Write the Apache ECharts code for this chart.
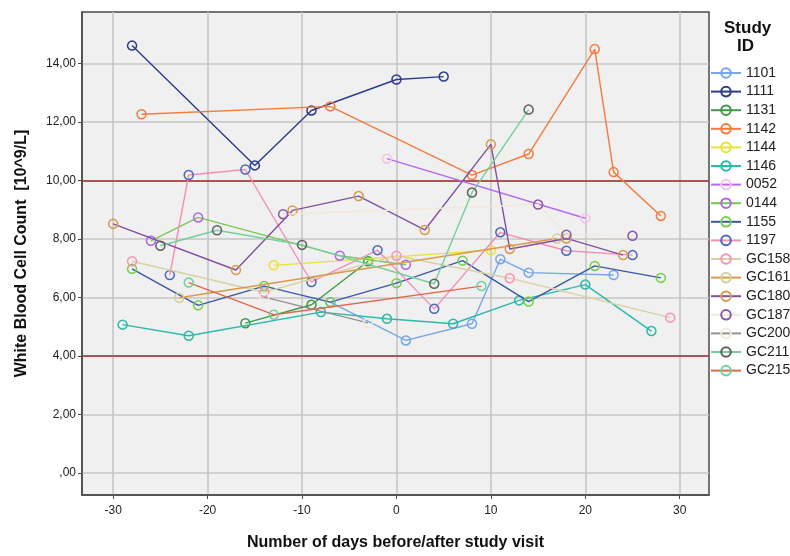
<!DOCTYPE html>
<html>
<head>
<meta charset="utf-8">
<script src="https://cdn.jsdelivr.net/npm/echarts@6/dist/echarts.min.js"></script>
<style>
  html, body { margin: 0; padding: 0; background: #ffffff; }
  #chart { width: 790px; height: 556px; }
</style>
</head>
<body>
<div id="chart"></div>
<script>
// White blood cell counts per study participant, by day relative to the study visit.
const ids = ['1101', '1111', '1131', '1142', '1144', '1146', '0052', '0144', '1155', '1197',
             'GC158', 'GC161', 'GC180', 'GC187', 'GC200', 'GC211', 'GC215'];

// [day, WBC 10^9/L]
const p1101  = [[-7, 5.84], [1, 4.53], [8, 5.10], [11, 7.31], [14, 6.85], [23, 6.77]];
const p1111  = [[-28, 14.62], [-15, 10.52], [-9, 12.40], [0, 13.46], [5, 13.56]];
const p1131  = [[-16, 5.12], [-9, 5.75], [-3, 7.24]];
const p1142  = [[-27, 12.27], [-7, 12.54], [8, 10.19], [14, 10.91], [21, 14.50], [23, 10.29], [28, 8.79]];
const p1144  = [[-13, 7.10], [10, 7.62]];
const p1146  = [[-29, 5.07], [-22, 4.69], [-8, 5.50], [-1, 5.27], [6, 5.10], [13, 5.90], [20, 6.44], [27, 4.85]];
const p0052  = [[-1, 10.75], [20, 8.71]];
const p0144  = [[-26, 7.94], [-21, 8.74], [-6, 7.43], [1, 7.12]];
const p1155  = [[-28, 6.98], [-21, 5.73], [-14, 6.39], [-7, 5.84], [0, 6.49], [7, 7.26], [14, 5.86], [21, 7.08], [28, 6.67]];
const p1197  = [[-24, 6.77], [-22, 10.19], [-16, 10.38], [-9, 6.53], [-2, 7.62], [4, 5.61], [11, 8.23], [18, 7.60], [25, 7.45]];
const pGC158 = [[-28, 7.24], [-14, 6.18], [0, 7.43], [12, 6.66], [29, 5.31]];
const pGC161 = [[-23, 5.99], [17, 8.02]];
const pGC180 = [[-30, 8.52], [-17, 6.94], [-11, 8.98], [-4, 9.47], [3, 8.31], [10, 11.24], [12, 7.66], [18, 8.02], [24, 7.45]];
const pGC187 = [[-12, 8.85], [15, 9.18], [18, 8.15], [25, 8.11]];
const pGC200 = [[-14, 6.01], [-3, 5.13]];
const pGC211 = [[-25, 7.77], [-19, 8.30], [-10, 7.80], [4, 6.47], [8, 9.59], [14, 12.43]];
const pGC215 = [[-22, 6.51], [-13, 5.41], [9, 6.39]];

const points = [p1101, p1111, p1131, p1142, p1144, p1146, p0052, p0144, p1155, p1197,
                pGC158, pGC161, pGC180, pGC187, pGC200, pGC211, pGC215];

// line colour and marker colour per participant
const lineColors = ['#77a6ea', '#2b3d8a', '#3f9a48', '#f47b3e', '#e9e232', '#2db8a9', '#b868f0', '#79c950',
                    '#3b58a8', '#f48db8', '#d9d1a3', '#d99a4c', '#8250a2', '#f1e9d9', '#929292', '#72d09a', '#e0684a'];
const markColors = ['#77a6ea', '#2b3d8a', '#3f9a48', '#f47b3e', '#e9e232', '#2db8a9', '#f8c2e8', '#b064f0',
                    '#72d04a', '#4b69b8', '#f892b8', '#d9cd9a', '#d99a4c', '#8a5aa8', '#f1e9d9', '#606060', '#72d09a'];

const xTicks = [-30, -20, -10, 0, 10, 20, 30];
const yTicks = [0, 2, 4, 6, 8, 10, 12, 14];
const normalRange = [4, 10];

const series = ids.map((id, i) => ({
  name: id,
  type: 'line',
  data: points[i],
  symbol: 'circle',
  symbolSize: 9,
  showSymbol: true,
  z: 3 + i,
  itemStyle: { color: 'rgba(0,0,0,0)', borderColor: markColors[i], borderWidth: 1.5 },
  lineStyle: { color: lineColors[i], width: 1.4 },
  emphasis: { disabled: true },
  animation: false
}));

// reference band limits
series.push({
  type: 'line',
  data: [],
  silent: true,
  markLine: {
    symbol: 'none',
    silent: true,
    label: { show: false },
    lineStyle: { color: '#9e2b2b', width: 1.6, type: 'solid' },
    data: normalRange.map(v => ({ yAxis: v }))
  },
  z: 2
});

const chart = echarts.init(document.getElementById('chart'), null, { renderer: 'canvas' });
chart.setOption({
  animation: false,
  backgroundColor: '#ffffff',
  grid: {
    left: 82, right: 81, top: 12, bottom: 59,
    show: true, backgroundColor: '#f0f0f0', borderColor: '#4a4a4a', borderWidth: 1.5
  },
  xAxis: {
    type: 'value',
    min: -33.3, max: 33.1,
    name: 'Number of days before/after study visit',
    nameLocation: 'middle', nameGap: 40,
    nameTextStyle: { fontFamily: 'Liberation Sans', fontSize: 16, fontWeight: 'bold', color: '#111' },
    axisLine: { show: true, onZero: false, lineStyle: { color: '#4a4a4a', width: 1.5 } },
    axisTick: { show: true, length: 4, customValues: xTicks, lineStyle: { color: '#4a4a4a' } },
    axisLabel: { customValues: xTicks, fontFamily: 'Liberation Sans', fontSize: 12, color: '#222', margin: 10 },
    splitLine: { show: true, lineStyle: { color: '#c6c6c6', width: 1.6 } }
  },
  yAxis: {
    type: 'value',
    min: -0.76, max: 15.77,
    name: 'White Blood Cell Count  [10^9/L]',
    nameLocation: 'middle', nameGap: 52,
    nameTextStyle: { fontFamily: 'Liberation Sans', fontSize: 16, fontWeight: 'bold', color: '#111' },
    axisLine: { show: true, onZero: false, lineStyle: { color: '#4a4a4a', width: 1.5 } },
    axisTick: { show: true, length: 4, customValues: yTicks, lineStyle: { color: '#4a4a4a' } },
    axisLabel: {
      customValues: yTicks, fontFamily: 'Liberation Sans', fontSize: 12, color: '#222', margin: 6,
      formatter: v => v === 0 ? ',00' : v.toFixed(2).replace('.', ',')
    },
    splitLine: { show: true, lineStyle: { color: '#c6c6c6', width: 1.6 } }
  },
  legend: {
    orient: 'vertical',
    left: 710, top: 66, padding: 0,
    itemWidth: 30, itemHeight: 12, itemGap: 4.6,
    data: ids,
    textStyle: { fontFamily: 'Liberation Sans', fontSize: 14, color: '#222', overflow: 'none', width: 60 },
    selectedMode: false
  },
  graphic: [
    { type: 'text', left: 724, top: 20,
      style: { text: 'Study', font: 'bold 17px "Liberation Sans"', fill: '#111' } },
    { type: 'text', left: 737, top: 38,
      style: { text: 'ID', font: 'bold 17px "Liberation Sans"', fill: '#111' } }
  ],
  series: series
});
</script>
</body>
</html>
